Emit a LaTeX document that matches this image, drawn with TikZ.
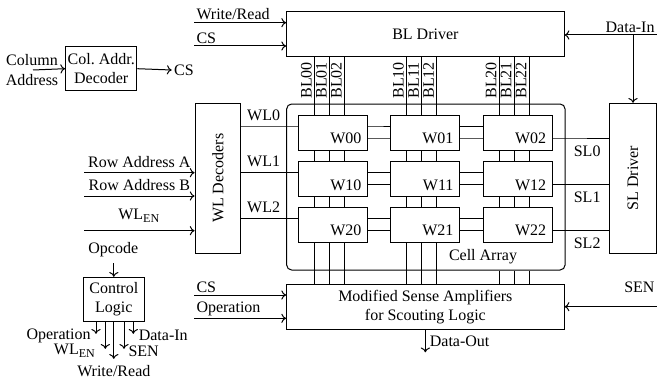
\documentclass[tikz,border=0pt]{standalone}
\usepackage{fontspec}
\setmainfont{Liberation Serif}
\usepackage{tikz}
\usetikzlibrary{arrows.meta, backgrounds}

\begin{document}
\begin{tikzpicture}[
  x=0.5pt, y=-0.5pt,
  font=\fontsize{8}{9.6}\selectfont,
  box/.style={draw, line width=0.5pt, inner sep=1pt, align=center},
  cell/.style={box, fill=white, minimum width=34.4pt, minimum height=17.5pt,
               label={[anchor=south east, inner sep=3.2pt]south east:#1}},
  arr/.style={-{To[length=2.4pt,width=4.6pt]}, line width=0.5pt},
  wire/.style={line width=0.5pt},
  lbl/.style={inner sep=1pt},
  bltxt/.style={lbl, rotate=90, anchor=south}
]
\useasboundingbox (0,0) rectangle (657,385);

%% Blocks
\node[box, minimum width=138.7pt, minimum height=22.5pt] (bldrv)  at (425.35,34.2)  {BL Driver};
\node[box, minimum width=32.8pt,  minimum height=22pt]   (coldec) at (101.2,68.7)   {Col.~Addr.\\Decoder};
\node[box, minimum width=22.8pt,  minimum height=75pt]   (wldec)  at (217.9,178.3)  {};
\node[rotate=90] at (wldec) {WL Decoders};
\node[box, minimum width=23.7pt,  minimum height=75pt]   (sldrv)  at (633,178.3)    {};
\node[rotate=90] at (sldrv) {SL Driver};
\node[box, minimum width=138.7pt, minimum height=22.7pt] (sense)  at (425.35,306.7)
  {Modified Sense Amplifiers\\for Scouting Logic};
\node[box, minimum width=30.5pt,  minimum height=22.2pt] (ctrl)   at (113.8,299.5)  {Control\\Logic};

%% Cell array
\node[draw, line width=0.5pt, rounded corners=2.5pt, minimum width=139.2pt, minimum height=83pt]
  (cellarr) at (425.85,187) {};
\node[lbl, above=2pt] at (cellarr.south -| 483,0) {Cell Array};

\node[cell=W00] (w00) at (333.3,132.5) {};
\node[cell=W01] (w01) at (425.35,132.5) {};
\node[cell=W02] (w02) at (518,132.5) {};
\node[cell=W10] (w10) at (333.3,179.2) {};
\node[cell=W11] (w11) at (425.35,179.2) {};
\node[cell=W12] (w12) at (518,179.2) {};
\node[cell=W20] (w20) at (333.3,225) {};
\node[cell=W21] (w21) at (425.35,225) {};
\node[cell=W22] (w22) at (518,225) {};

%% Bit lines, word lines and source lines (behind the cells)
\coordinate (bl00) at ([xshift=-9.5pt]w00.center);
\coordinate (bl01) at ([xshift=-2pt]w00.center);
\coordinate (bl02) at ([xshift=5.5pt]w00.center);
\coordinate (bl10) at ([xshift=-9.5pt]w01.center);
\coordinate (bl11) at ([xshift=-2pt]w01.center);
\coordinate (bl12) at ([xshift=5.5pt]w01.center);
\coordinate (bl20) at ([xshift=-9.5pt]w02.center);
\coordinate (bl21) at ([xshift=-2pt]w02.center);
\coordinate (bl22) at ([xshift=5.5pt]w02.center);

\coordinate (wl0) at ([yshift=3.25pt]w00.west);
\coordinate (wl1) at ([yshift=3.25pt]w10.west);
\coordinate (wl2) at ([yshift=3.25pt]w20.west);
\coordinate (sl0) at ([yshift=-2.75pt]w00.east);
\coordinate (sl1) at ([yshift=-2.75pt]w10.east);
\coordinate (sl2) at ([yshift=-2.75pt]w20.east);

\begin{pgfonlayer}{background}
\draw[wire] (bl00 |- bldrv.south) -- node[bltxt] {BL00} (bl00 |- cellarr.north) -- (bl00 |- sense.north);
\draw[wire] (bl01 |- bldrv.south) -- node[bltxt] {BL01} (bl01 |- cellarr.north) -- (bl01 |- sense.north);
\draw[wire] (bl02 |- bldrv.south) -- node[bltxt] {BL02} (bl02 |- cellarr.north) -- (bl02 |- sense.north);
\draw[wire] (bl10 |- bldrv.south) -- node[bltxt] {BL10} (bl10 |- cellarr.north) -- (bl10 |- sense.north);
\draw[wire] (bl11 |- bldrv.south) -- node[bltxt] {BL11} (bl11 |- cellarr.north) -- (bl11 |- sense.north);
\draw[wire] (bl12 |- bldrv.south) -- node[bltxt] {BL12} (bl12 |- cellarr.north) -- (bl12 |- sense.north);
% last column stops at W22 and leaves room for the array label
\draw[wire] (bl20 |- bldrv.south) -- node[bltxt] {BL20} (bl20 |- cellarr.north) -- (bl20 |- w22.south);
\draw[wire] (bl21 |- bldrv.south) -- node[bltxt] {BL21} (bl21 |- cellarr.north) -- (bl21 |- w22.south);
\draw[wire] (bl22 |- bldrv.south) -- node[bltxt] {BL22} (bl22 |- cellarr.north) -- (bl22 |- w22.south);
\draw[wire] (bl20 |- cellarr.south) -- (bl20 |- sense.north);
\draw[wire] (bl21 |- cellarr.south) -- (bl21 |- sense.north);
\draw[wire] (bl22 |- cellarr.south) -- (bl22 |- sense.north);

\draw[wire] (wl0 -| wldec.east) -- node[lbl, above=1.5pt] {WL0} (wl0 -| cellarr.west) -- (wl0 -| w02.west);
\draw[wire] (wl1 -| wldec.east) -- node[lbl, above=1.5pt] {WL1} (wl1 -| cellarr.west) -- (wl1 -| w12.west);
\draw[wire] (wl2 -| wldec.east) -- node[lbl, above=1.5pt] {WL2} (wl2 -| cellarr.west) -- (wl2 -| w22.west);

\draw[wire] (sl0) -- (sl0 -| cellarr.east) -- node[lbl, below=2.5pt] {SL0} (sl0 -| sldrv.west);
\draw[wire] (sl1) -- (sl1 -| cellarr.east) -- node[lbl, below=2.5pt] {SL1} (sl1 -| sldrv.west);
\draw[wire] (sl2) -- (sl2 -| cellarr.east) -- node[lbl, below=2.5pt] {SL2} (sl2 -| sldrv.west);
\end{pgfonlayer}

%% Inputs of the BL driver
\coordinate (wrin) at (194,22.7);
\coordinate (csin) at (194,46);
\coordinate (din)  at (657,35);
\draw[arr] (wrin) -- node[lbl, pos=0, anchor=south west] {Write/Read} (wrin -| bldrv.west);
\draw[arr] (csin) -- node[lbl, pos=0, anchor=south west] {CS} (csin -| bldrv.west);
\draw[arr] (din) -- node[lbl, pos=0, anchor=south east] {Data-In} (din -| bldrv.east);
\draw[arr] (din -| sldrv.north) -- (sldrv.north);

%% Column address decoder
\coordinate (colin) at (33,70);
\coordinate (csout) at (171.7,70);
\node[lbl, align=center] at (32,70) {Column\\Address};
\draw[arr] (colin) -- (coldec.west);
\draw[arr] (coldec.east) -- (csout) node[lbl, right] {CS};

%% Inputs of the WL decoders
\coordinate (rowa) at (84,172.7);
\coordinate (rowb) at (84,196);
\coordinate (wlen) at (84,230.7);
\draw[arr] (rowa) -- node[lbl, above=1.5pt] {Row Address A} (rowa -| wldec.west);
\draw[arr] (rowb) -- node[lbl, above=1.5pt] {Row Address B} (rowb -| wldec.west);
\draw[arr] (wlen) -- node[lbl, above=3pt] {WL\textsubscript{EN}} (wlen -| wldec.west);

%% Sense amplifiers
\coordinate (cssa) at (194,295);
\coordinate (opsa) at (194,318.3);
\coordinate (senin) at (657,306.7);
\coordinate (dout) at ([yshift=-11.2pt]sense.south);
\draw[arr] (cssa) -- node[lbl, pos=0, anchor=south west] {CS} (cssa -| sense.west);
\draw[arr] (opsa) -- node[lbl, pos=0, anchor=south west] {Operation} (opsa -| sense.west);
\draw[arr] (senin) -- node[lbl, pos=0, anchor=south east, yshift=6pt] {SEN} (senin -| sense.east);
\draw[arr] (sense.south) -- node[lbl, right=1pt] {Data-Out} (dout);

%% Control logic
\node[lbl] (opc) at (113.3,249.3) {Opcode};
\draw[arr] (ctrl.north |- 0,263.3) -- (ctrl.north);

\coordinate (co1) at ([xshift=-8.9pt, yshift=-5.8pt]ctrl.south);
\coordinate (co2) at ([xshift=-4.25pt, yshift=-13.3pt]ctrl.south);
\coordinate (co3) at ([yshift=-18.3pt]ctrl.south);
\coordinate (co4) at ([xshift=5.1pt, yshift=-13.3pt]ctrl.south);
\coordinate (co5) at ([xshift=9.75pt, yshift=-5.8pt]ctrl.south);
\draw[arr] (co1 |- ctrl.south) -- (co1) node[lbl, anchor=east, xshift=-1.5pt, yshift=-1pt] {Operation};
\draw[arr] (co2 |- ctrl.south) -- (co2) node[lbl, anchor=east, xshift=-3.5pt, yshift=-1pt] {WL\textsubscript{EN}};
\draw[arr] (co3 |- ctrl.south) -- (co3) node[lbl, below=2pt] {Write/Read};
\draw[arr] (co4 |- ctrl.south) -- (co4) node[lbl, anchor=west, xshift=1pt, yshift=-1pt] {SEN};
\draw[arr] (co5 |- ctrl.south) -- (co5) node[lbl, anchor=west, xshift=1.5pt, yshift=-1pt] {Data-In};

\end{tikzpicture}
\end{document}
